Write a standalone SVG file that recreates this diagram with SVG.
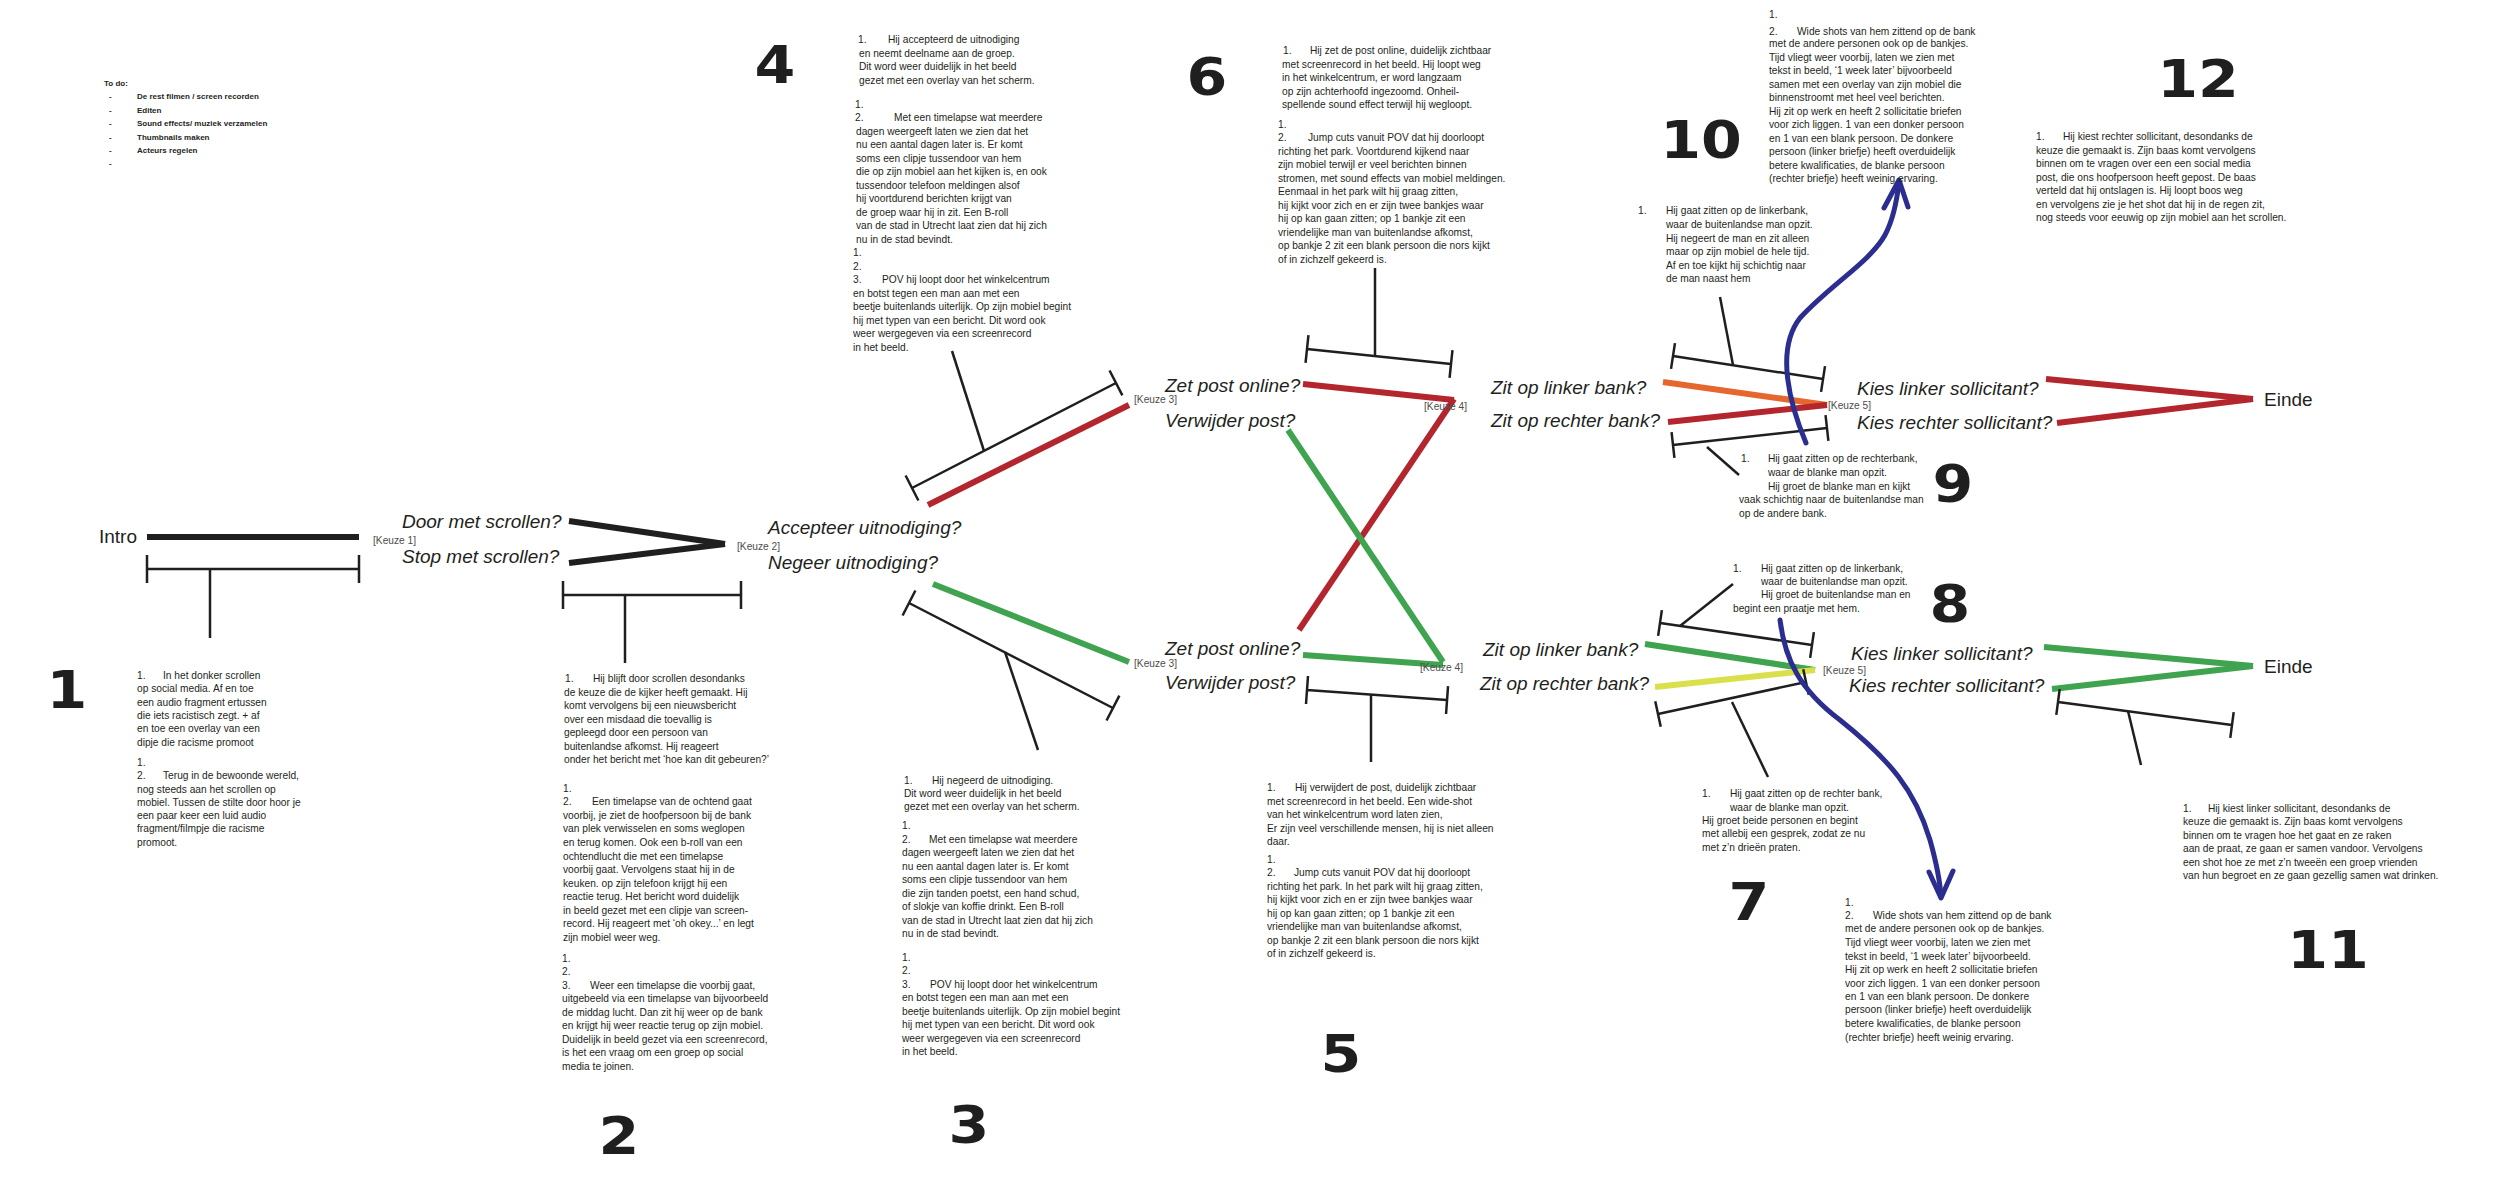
<svg xmlns="http://www.w3.org/2000/svg" width="2500" height="1188" viewBox="0 0 2500 1188">
<style>
.t{font-family:"Liberation Sans",Arial,sans-serif;font-size:10.2px;fill:#231f20}
.todo{font-family:"Liberation Sans",Arial,sans-serif;font-size:8px;font-weight:bold;fill:#231f20}
.q{font-family:"Liberation Sans",Arial,sans-serif;font-size:19px;font-style:italic;fill:#231f20}
.n{font-family:"Liberation Sans",Arial,sans-serif;font-size:19px;fill:#231f20}
.kz{font-family:"Liberation Sans",Arial,sans-serif;font-size:10.2px;fill:#4d4d4d}
.num{font-family:"DejaVu Sans",sans-serif;font-size:51px;font-weight:bold;fill:#1f1f1f;text-anchor:middle}
.k{stroke:#1f1f1f;stroke-width:6;fill:none}
.r{stroke:#b3262d;stroke-width:6;fill:none}
.g{stroke:#3fa34f;stroke-width:6;fill:none}
.o{stroke:#e5672d;stroke-width:6;fill:none}
.y{stroke:#d9e04b;stroke-width:6;fill:none}
.br{stroke:#1f1f1f;stroke-width:2.5;fill:none}
.bl{stroke:#2b2e8e;stroke-width:5;fill:none;stroke-linecap:round;stroke-linejoin:round}
</style>
<rect width="2500" height="1188" fill="#ffffff"/>

<g id="todo">
<text class="todo" x="104" y="86">To do:</text>
<text class="todo"><tspan x="109" y="99">-</tspan><tspan x="137" y="99">De rest filmen / screen recorden</tspan></text>
<text class="todo"><tspan x="109" y="113">-</tspan><tspan x="137" y="113">Editen</tspan></text>
<text class="todo"><tspan x="109" y="126">-</tspan><tspan x="137" y="126">Sound effects/ muziek verzamelen</tspan></text>
<text class="todo"><tspan x="109" y="140">-</tspan><tspan x="137" y="140">Thumbnails maken</tspan></text>
<text class="todo"><tspan x="109" y="153">-</tspan><tspan x="137" y="153">Acteurs regelen</tspan></text>
<text class="todo"><tspan x="109" y="166">-</tspan></text>
</g>

<g id="connectors">
<line class="k" x1="147" y1="537" x2="359" y2="537"/>
<line class="k" x1="569" y1="521" x2="725" y2="544"/>
<line class="k" x1="569" y1="563" x2="725" y2="544"/>
<line class="r" x1="928" y1="505" x2="1129" y2="405"/>
<line class="g" x1="933" y1="584" x2="1129" y2="662"/>
<line class="r" x1="1303" y1="384" x2="1454" y2="400"/>
<line class="r" x1="1299" y1="630" x2="1454" y2="399"/>
<line class="g" x1="1288" y1="430" x2="1443" y2="662"/>
<line class="g" x1="1303" y1="655" x2="1443" y2="665"/>
<line class="o" x1="1663" y1="382" x2="1827" y2="405"/>
<line class="r" x1="1668" y1="422" x2="1827" y2="405"/>
<line class="g" x1="1645" y1="644" x2="1815" y2="670"/>
<line class="y" x1="1655" y1="687" x2="1815" y2="670"/>
<line class="r" x1="2046" y1="379" x2="2253" y2="399"/>
<line class="r" x1="2057" y1="423" x2="2253" y2="399"/>
<line class="g" x1="2044" y1="647" x2="2253" y2="666"/>
<line class="g" x1="2052" y1="689" x2="2253" y2="666"/>

<path class="br" transform="translate(147,569)" d="M0,0H212M0,-14V14M212,-14V14"/>
<line class="br" x1="210" y1="569" x2="210" y2="638"/>
<path class="br" transform="translate(563,595)" d="M0,0H178M0,-14V14M178,-14V14"/>
<line class="br" x1="625" y1="595" x2="625" y2="663"/>
<path class="br" transform="translate(912,488) rotate(-27.24)" d="M0,0H229.4M0,-14V14M229.4,-14V14"/>
<line class="br" x1="984" y1="451" x2="952" y2="351"/>
<path class="br" transform="translate(909,603) rotate(27.24)" d="M0,0H229.4M0,-14V14M229.4,-14V14"/>
<line class="br" x1="1005" y1="652" x2="1038" y2="750"/>
<path class="br" transform="translate(1307,349) rotate(5.95)" d="M0,0H144.8M0,-14V14M144.8,-14V14"/>
<line class="br" x1="1375" y1="356" x2="1375" y2="268"/>
<path class="br" transform="translate(1307,690) rotate(4.09)" d="M0,0H140.4M0,-14V14M140.4,-14V14"/>
<line class="br" x1="1371" y1="695" x2="1371" y2="762"/>
<path class="br" transform="translate(1673,356) rotate(8.72)" d="M0,0H151.8M0,-13V13M151.8,-13V13"/>
<line class="br" x1="1733" y1="365" x2="1720" y2="297"/>
<path class="br" transform="translate(1673,445) rotate(-6.3)" d="M0,0H154.9M0,-13V13M154.9,-13V13"/>
<line class="br" x1="1707" y1="447" x2="1739" y2="475"/>
<path class="br" transform="translate(1660,623) rotate(8.24)" d="M0,0H153.6M0,-13V13M153.6,-13V13"/>
<line class="br" x1="1680" y1="626" x2="1733" y2="584"/>
<path class="br" transform="translate(1658,714) rotate(-12.2)" d="M0,0H151.4M0,-13V13M151.4,-13V13"/>
<line class="br" x1="1732" y1="702" x2="1768" y2="777"/>
<path class="br" transform="translate(2058,702) rotate(7.53)" d="M0,0H175.5M0,-13V13M175.5,-13V13"/>
<line class="br" x1="2128" y1="711" x2="2141" y2="765"/>

<path class="bl" d="M1806,443 C1790,405 1775,350 1800,318 C1830,285 1870,262 1885,235 C1893,220 1897,200 1899,182"/>
<path class="bl" d="M1884,208 L1899,180 L1908,207"/>
<path class="bl" d="M1780,620 C1785,660 1800,690 1840,720 C1890,760 1915,790 1930,840 C1937,865 1940,880 1941,897"/>
<path class="bl" d="M1929,872 L1941,898 L1953,871"/>
</g>

<g id="labels">
<text class="n" x="99" y="543">Intro</text>
<text class="kz" x="373" y="544">[Keuze 1]</text>
<text class="q" x="402" y="528">Door met scrollen?</text>
<text class="q" x="402" y="563">Stop met scrollen?</text>
<text class="kz" x="737" y="550">[Keuze 2]</text>
<text class="q" x="768" y="534">Accepteer uitnodiging?</text>
<text class="q" x="768" y="569">Negeer uitnodiging?</text>
<text class="kz" x="1134" y="403">[Keuze 3]</text>
<text class="q" x="1165" y="392">Zet post online?</text>
<text class="q" x="1165" y="427">Verwijder post?</text>
<text class="kz" x="1134" y="667">[Keuze 3]</text>
<text class="q" x="1165" y="655">Zet post online?</text>
<text class="q" x="1165" y="689">Verwijder post?</text>
<text class="kz" x="1424" y="410">[Keuze 4]</text>
<text class="kz" x="1420" y="671">[Keuze 4]</text>
<text class="q" x="1491" y="394">Zit op linker bank?</text>
<text class="q" x="1491" y="427">Zit op rechter bank?</text>
<text class="q" x="1483" y="656">Zit op linker bank?</text>
<text class="q" x="1480" y="690">Zit op rechter bank?</text>
<text class="kz" x="1828" y="409">[Keuze 5]</text>
<text class="kz" x="1823" y="674">[Keuze 5]</text>
<text class="q" x="1857" y="395">Kies linker sollicitant?</text>
<text class="q" x="1857" y="429">Kies rechter sollicitant?</text>
<text class="q" x="1851" y="660">Kies linker sollicitant?</text>
<text class="q" x="1849" y="692">Kies rechter sollicitant?</text>
<text class="n" x="2264" y="406">Einde</text>
<text class="n" x="2264" y="673">Einde</text>
</g>

<g id="numbers">
<text class="num" transform="translate(67,708) scale(1.15,1)">1</text>
<text class="num" transform="translate(619,1154) scale(1.15,1)">2</text>
<text class="num" transform="translate(969,1143) scale(1.15,1)">3</text>
<text class="num" transform="translate(775,83) scale(1.15,1)">4</text>
<text class="num" transform="translate(1341,1072) scale(1.15,1)">5</text>
<text class="num" transform="translate(1207,95) scale(1.15,1)">6</text>
<text class="num" transform="translate(1749,920) scale(1.15,1)">7</text>
<text class="num" transform="translate(1950,622) scale(1.15,1)">8</text>
<text class="num" transform="translate(1953,502) scale(1.15,1)">9</text>
<text class="num" transform="translate(1701,158) scale(1.15,1)">10</text>
<text class="num" transform="translate(2328,968) scale(1.15,1)">11</text>
<text class="num" transform="translate(2198,97) scale(1.15,1)">12</text>
</g>

<g id="block1">
<text class="t"><tspan x="137" y="679">1.</tspan><tspan x="163" y="679">In het donker scrollen</tspan><tspan x="137" y="692">op social media. Af en toe</tspan><tspan x="137" y="706">een audio fragment ertussen</tspan><tspan x="137" y="719">die iets racistisch zegt. + af</tspan><tspan x="137" y="732">en toe een overlay van een</tspan><tspan x="137" y="746">dipje die racisme promoot</tspan><tspan x="137" y="766">1.</tspan><tspan x="137" y="779">2.</tspan><tspan x="163" y="779">Terug in de bewoonde wereld,</tspan><tspan x="137" y="793">nog steeds aan het scrollen op</tspan><tspan x="137" y="806">mobiel. Tussen de stilte door hoor je</tspan><tspan x="137" y="819">een paar keer een luid audio</tspan><tspan x="137" y="832">fragment/filmpje die racisme</tspan><tspan x="137" y="846">promoot.</tspan></text>
</g>

<g id="block2">
<text class="t"><tspan x="565" y="682">1.</tspan><tspan x="593" y="682">Hij blijft door scrollen desondanks</tspan><tspan x="564" y="696">de keuze die de kijker heeft gemaakt. Hij</tspan><tspan x="564" y="709">komt vervolgens bij een nieuwsbericht</tspan><tspan x="564" y="723">over een misdaad die toevallig is</tspan><tspan x="564" y="736">gepleegd door een persoon van</tspan><tspan x="564" y="750">buitenlandse afkomst. Hij reageert</tspan><tspan x="564" y="763">onder het bericht met ‘hoe kan dit gebeuren?’</tspan><tspan x="563" y="792">1.</tspan><tspan x="563" y="805">2.</tspan><tspan x="592" y="805">Een timelapse van de ochtend gaat</tspan><tspan x="563" y="819">voorbij, je ziet de hoofpersoon bij de bank</tspan><tspan x="563" y="832">van plek verwisselen en soms weglopen</tspan><tspan x="563" y="846">en terug komen. Ook een b-roll van een</tspan><tspan x="563" y="860">ochtendlucht die met een timelapse</tspan><tspan x="563" y="873">voorbij gaat. Vervolgens staat hij in de</tspan><tspan x="563" y="887">keuken. op zijn telefoon krijgt hij een</tspan><tspan x="563" y="900">reactie terug. Het bericht word duidelijk</tspan><tspan x="563" y="914">in beeld gezet met een clipje van screen-</tspan><tspan x="563" y="927">record. Hij reageert met ‘oh okey...’ en legt</tspan><tspan x="563" y="941">zijn mobiel weer weg.</tspan><tspan x="562" y="962">1.</tspan><tspan x="562" y="975">2.</tspan><tspan x="562" y="989">3.</tspan><tspan x="590" y="989">Weer een timelapse die voorbij gaat,</tspan><tspan x="562" y="1002">uitgebeeld via een timelapse van bijvoorbeeld</tspan><tspan x="562" y="1016">de middag lucht. Dan zit hij weer op de bank</tspan><tspan x="562" y="1029">en krijgt hij weer reactie terug op zijn mobiel.</tspan><tspan x="562" y="1043">Duidelijk in beeld gezet via een screenrecord,</tspan><tspan x="562" y="1056">is het een vraag om een groep op social</tspan><tspan x="562" y="1070">media te joinen.</tspan></text>
</g>

<g id="block3">
<text class="t"><tspan x="904" y="784">1.</tspan><tspan x="932" y="784">Hij negeerd de uitnodiging.</tspan><tspan x="904" y="797">Dit word weer duidelijk in het beeld</tspan><tspan x="904" y="810">gezet met een overlay van het scherm.</tspan><tspan x="902" y="829">1.</tspan><tspan x="902" y="843">2.</tspan><tspan x="929" y="843">Met een timelapse wat meerdere</tspan><tspan x="902" y="856">dagen weergeeft laten we zien dat het</tspan><tspan x="902" y="870">nu een aantal dagen later is.  Er komt</tspan><tspan x="902" y="883">soms een clipje tussendoor van hem</tspan><tspan x="902" y="897">die zijn tanden poetst, een hand schud,</tspan><tspan x="902" y="910">of slokje van koffie drinkt. Een B-roll</tspan><tspan x="902" y="924">van de stad in Utrecht laat zien dat hij zich</tspan><tspan x="902" y="937">nu in de stad bevindt.</tspan><tspan x="902" y="961">1.</tspan><tspan x="902" y="974">2.</tspan><tspan x="902" y="988">3.</tspan><tspan x="930" y="988">POV hij loopt door het winkelcentrum</tspan><tspan x="902" y="1001">en botst tegen een man aan met een</tspan><tspan x="902" y="1015">beetje buitenlands uiterlijk. Op zijn mobiel begint</tspan><tspan x="902" y="1028">hij met typen van een bericht. Dit word ook</tspan><tspan x="902" y="1042">weer wergegeven via een screenrecord</tspan><tspan x="902" y="1055">in het beeld.</tspan></text>
</g>

<g id="block4">
<text class="t"><tspan x="858" y="43">1.</tspan><tspan x="888" y="43">Hij accepteerd de uitnodiging</tspan><tspan x="859" y="57">en neemt deelname aan de groep.</tspan><tspan x="859" y="70">Dit word weer duidelijk in het beeld</tspan><tspan x="859" y="84">gezet met een overlay van het scherm.</tspan><tspan x="855" y="108">1.</tspan><tspan x="855" y="121">2.</tspan><tspan x="894" y="121">Met een timelapse wat meerdere</tspan><tspan x="856" y="135">dagen weergeeft laten we zien dat het</tspan><tspan x="856" y="148">nu een aantal dagen later is.  Er komt</tspan><tspan x="856" y="162">soms een clipje tussendoor van hem</tspan><tspan x="856" y="175">die op zijn mobiel aan het kijken is, en ook</tspan><tspan x="856" y="189">tussendoor telefoon meldingen alsof</tspan><tspan x="856" y="202">hij voortdurend berichten krijgt van</tspan><tspan x="856" y="216">de groep waar hij in zit. Een B-roll</tspan><tspan x="856" y="229">van de stad in Utrecht laat zien dat hij zich</tspan><tspan x="856" y="243">nu in de stad bevindt.</tspan><tspan x="853" y="256">1.</tspan><tspan x="853" y="270">2.</tspan><tspan x="853" y="283">3.</tspan><tspan x="882" y="283">POV hij loopt door het winkelcentrum</tspan><tspan x="853" y="297">en botst tegen een man aan met een</tspan><tspan x="853" y="310">beetje buitenlands uiterlijk. Op zijn mobiel begint</tspan><tspan x="853" y="324">hij met typen van een bericht. Dit word ook</tspan><tspan x="853" y="337">weer wergegeven via een screenrecord</tspan><tspan x="853" y="351">in het beeld.</tspan></text>
</g>

<g id="block5">
<text class="t"><tspan x="1267" y="791">1.</tspan><tspan x="1295" y="791">Hij verwijdert de post, duidelijk zichtbaar</tspan><tspan x="1267" y="805">met screenrecord in het beeld. Een wide-shot</tspan><tspan x="1267" y="818">van het winkelcentrum word laten zien,</tspan><tspan x="1267" y="832">Er zijn veel verschillende mensen, hij is niet alleen</tspan><tspan x="1267" y="845">daar.</tspan><tspan x="1267" y="863">1.</tspan><tspan x="1267" y="876">2.</tspan><tspan x="1294" y="876">Jump cuts vanuit POV dat hij doorloopt</tspan><tspan x="1267" y="890">richting het park. In het park wilt hij graag zitten,</tspan><tspan x="1267" y="903">hij kijkt voor zich en er zijn twee bankjes waar</tspan><tspan x="1267" y="917">hij op kan gaan zitten; op 1 bankje zit een</tspan><tspan x="1267" y="930">vriendelijke man van buitenlandse afkomst,</tspan><tspan x="1267" y="944">op bankje 2 zit een blank persoon die nors kijkt</tspan><tspan x="1267" y="957">of in zichzelf gekeerd is.</tspan></text>
</g>

<g id="block6">
<text class="t"><tspan x="1283" y="54">1.</tspan><tspan x="1310" y="54">Hij zet de post online, duidelijk zichtbaar</tspan><tspan x="1282" y="68">met screenrecord in het beeld. Hij loopt weg</tspan><tspan x="1282" y="81">in het winkelcentrum, er word langzaam</tspan><tspan x="1282" y="95">op zijn achterhoofd ingezoomd. Onheil-</tspan><tspan x="1282" y="108">spellende sound effect terwijl hij wegloopt.</tspan><tspan x="1278" y="128">1.</tspan><tspan x="1278" y="141">2.</tspan><tspan x="1308" y="141">Jump cuts vanuit POV dat hij doorloopt</tspan><tspan x="1278" y="155">richting het park. Voortdurend kijkend naar</tspan><tspan x="1278" y="168">zijn mobiel terwijl er veel berichten binnen</tspan><tspan x="1278" y="182">stromen, met sound effects van mobiel meldingen.</tspan><tspan x="1278" y="195">Eenmaal in het park wilt hij graag zitten,</tspan><tspan x="1278" y="209">hij kijkt voor zich en er zijn twee bankjes waar</tspan><tspan x="1278" y="222">hij op kan gaan zitten; op 1 bankje zit een</tspan><tspan x="1278" y="236">vriendelijke man van buitenlandse afkomst,</tspan><tspan x="1278" y="249">op bankje 2 zit een blank persoon die nors kijkt</tspan><tspan x="1278" y="263">of in zichzelf gekeerd is.</tspan></text>
</g>

<g id="block7">
<text class="t"><tspan x="1702" y="797">1.</tspan><tspan x="1730" y="797">Hij gaat zitten op de rechter bank,</tspan><tspan x="1730" y="811">waar de blanke man opzit.</tspan><tspan x="1702" y="824">Hij groet beide personen en begint</tspan><tspan x="1702" y="837">met allebij een gesprek, zodat ze nu</tspan><tspan x="1702" y="851">met z’n drieën praten.</tspan></text>
</g>

<g id="block7b">
<text class="t"><tspan x="1845" y="906">1.</tspan><tspan x="1845" y="919">2.</tspan><tspan x="1873" y="919">Wide shots van hem zittend op de bank</tspan><tspan x="1845" y="932">met de andere personen ook op de bankjes.</tspan><tspan x="1845" y="946">Tijd vliegt weer voorbij, laten we zien met</tspan><tspan x="1845" y="960">tekst in beeld, ‘1 week later’  bijvoorbeeld.</tspan><tspan x="1845" y="973">Hij zit op werk en heeft 2 sollicitatie briefen</tspan><tspan x="1845" y="987">voor zich liggen. 1 van een donker persoon</tspan><tspan x="1845" y="1000">en 1 van een blank persoon. De donkere</tspan><tspan x="1845" y="1013">persoon (linker briefje) heeft overduidelijk</tspan><tspan x="1845" y="1027">betere kwalificaties, de blanke persoon</tspan><tspan x="1845" y="1041">(rechter briefje) heeft weinig ervaring.</tspan></text>
</g>

<g id="block8">
<text class="t"><tspan x="1733" y="572">1.</tspan><tspan x="1761" y="572">Hij gaat zitten op de linkerbank,</tspan><tspan x="1761" y="585">waar de buitenlandse man opzit.</tspan><tspan x="1761" y="598">Hij groet de buitenlandse man en</tspan><tspan x="1733" y="612">begint een praatje met hem.</tspan></text>
</g>

<g id="block9">
<text class="t"><tspan x="1741" y="462">1.</tspan><tspan x="1768" y="462">Hij gaat zitten op de rechterbank,</tspan><tspan x="1768" y="476">waar de blanke man opzit.</tspan><tspan x="1768" y="490">Hij groet de blanke man en kijkt</tspan><tspan x="1739" y="503">vaak schichtig naar de buitenlandse man</tspan><tspan x="1739" y="517">op de andere bank.</tspan></text>
</g>

<g id="block10">
<text class="t"><tspan x="1638" y="214">1.</tspan><tspan x="1666" y="214">Hij gaat zitten op de linkerbank,</tspan><tspan x="1666" y="228">waar de buitenlandse man opzit.</tspan><tspan x="1666" y="242">Hij negeert de man en zit alleen</tspan><tspan x="1666" y="255">maar op zijn mobiel de hele tijd.</tspan><tspan x="1666" y="269">Af en toe kijkt hij schichtig naar</tspan><tspan x="1666" y="282">de man naast hem</tspan></text>
</g>

<g id="block10b">
<text class="t"><tspan x="1769" y="18">1.</tspan><tspan x="1769" y="35">2.</tspan><tspan x="1797" y="35">Wide shots van hem zittend op de bank</tspan><tspan x="1769" y="47">met de andere personen ook op de bankjes.</tspan><tspan x="1769" y="61">Tijd vliegt weer voorbij, laten we zien met</tspan><tspan x="1769" y="74">tekst in beeld, ‘1 week later’ bijvoorbeeld</tspan><tspan x="1769" y="88">samen met een overlay van zijn mobiel die</tspan><tspan x="1769" y="101">binnenstroomt met heel veel berichten.</tspan><tspan x="1769" y="115">Hij zit op werk en heeft 2 sollicitatie briefen</tspan><tspan x="1769" y="128">voor zich liggen. 1 van een donker persoon</tspan><tspan x="1769" y="142">en 1 van een blank persoon. De donkere</tspan><tspan x="1769" y="155">persoon (linker briefje) heeft overduidelijk</tspan><tspan x="1769" y="169">betere kwalificaties, de blanke persoon</tspan><tspan x="1769" y="182">(rechter briefje) heeft weinig ervaring.</tspan></text>
</g>

<g id="block11">
<text class="t"><tspan x="2183" y="812">1.</tspan><tspan x="2208" y="812">Hij kiest linker sollicitant, desondanks de</tspan><tspan x="2183" y="825">keuze die gemaakt is. Zijn baas komt vervolgens</tspan><tspan x="2183" y="839">binnen om te vragen hoe het gaat en ze raken</tspan><tspan x="2183" y="852">aan de praat, ze gaan er samen vandoor. Vervolgens</tspan><tspan x="2183" y="866">een shot hoe ze met z’n tweeën een groep vrienden</tspan><tspan x="2183" y="879">van hun begroet en ze gaan gezellig samen wat drinken.</tspan></text>
</g>

<g id="block12">
<text class="t"><tspan x="2036" y="140">1.</tspan><tspan x="2063" y="140">Hij kiest rechter sollicitant, desondanks de</tspan><tspan x="2036" y="154">keuze die gemaakt is. Zijn baas komt vervolgens</tspan><tspan x="2036" y="167">binnen om te vragen over een een social media</tspan><tspan x="2036" y="181">post, die ons hoofpersoon heeft gepost. De baas</tspan><tspan x="2036" y="194">verteld dat hij ontslagen is. Hij loopt boos weg</tspan><tspan x="2036" y="208">en vervolgens zie je het shot dat hij in de regen zit,</tspan><tspan x="2036" y="221">nog steeds voor eeuwig op zijn mobiel aan het scrollen.</tspan></text>
</g>
</svg>
